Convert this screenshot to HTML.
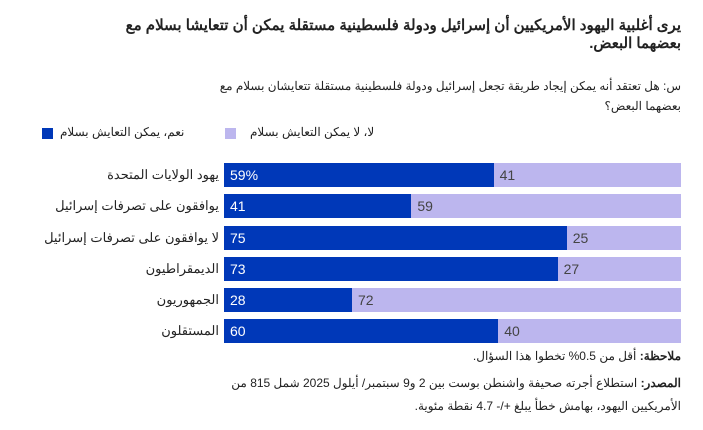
<!DOCTYPE html>
<html><head><meta charset="utf-8"><style>
body{margin:0;width:703px;height:430px;background:#fff;font-family:"Liberation Sans","Noto Sans CJK SC",sans-serif;color:#222;position:relative;overflow:hidden}
.a{position:absolute;white-space:nowrap;direction:rtl}
.r{right:22px}
.bar{position:absolute;left:224px;width:457px;height:24px;background:#bcb6ee}
.bar .d{position:absolute;left:0;top:0;height:24px;background:#0038b8}
.bar span{position:absolute;top:4px;font-size:14px}
.lab{position:absolute;right:484px;font-size:13px;direction:rtl;white-space:nowrap}
</style></head><body>
<div class="a r" style="top:17px;font-size:15px;font-weight:bold;line-height:18px;text-align:right">يرى أغلبية اليهود الأمريكيين أن إسرائيل ودولة فلسطينية مستقلة يمكن أن تتعايشا بسلام مع<br>بعضهما البعض.</div>
<div class="a r" style="top:76px;font-size:12px;line-height:20px;text-align:right">س: هل تعتقد أنه يمكن إيجاد طريقة تجعل إسرائيل ودولة فلسطينية مستقلة تتعايشان بسلام مع<br>بعضهما البعض؟</div>
<div style="position:absolute;left:42px;top:128px;width:11px;height:11px;background:#0038b8"></div>
<div class="a" style="left:60px;top:125px;font-size:12px">نعم، يمكن التعايش بسلام</div>
<div style="position:absolute;left:225px;top:128px;width:11px;height:11px;background:#bcb6ee"></div>
<div class="a" style="left:250px;top:125px;font-size:12px">لا، لا يمكن التعايش بسلام</div>

<div class="lab" style="top:167px">يهود الولايات المتحدة</div>
<div class="bar" style="top:163px"><div class="d" style="width:59%"></div><span style="left:6px;color:#fff">59%</span><span style="left:calc(59% + 6px);color:#444">41</span></div>
<div class="lab" style="top:198px">يوافقون على تصرفات إسرائيل</div>
<div class="bar" style="top:194px"><div class="d" style="width:41%"></div><span style="left:6px;color:#fff">41</span><span style="left:calc(41% + 6px);color:#444">59</span></div>
<div class="lab" style="top:230px">لا يوافقون على تصرفات إسرائيل</div>
<div class="bar" style="top:226px"><div class="d" style="width:75%"></div><span style="left:6px;color:#fff">75</span><span style="left:calc(75% + 6px);color:#444">25</span></div>
<div class="lab" style="top:261px">الديمقراطيون</div>
<div class="bar" style="top:257px"><div class="d" style="width:73%"></div><span style="left:6px;color:#fff">73</span><span style="left:calc(73% + 6px);color:#444">27</span></div>
<div class="lab" style="top:292px">الجمهوريون</div>
<div class="bar" style="top:288px"><div class="d" style="width:28%"></div><span style="left:6px;color:#fff">28</span><span style="left:calc(28% + 6px);color:#444">72</span></div>
<div class="lab" style="top:323px">المستقلون</div>
<div class="bar" style="top:319px"><div class="d" style="width:60%"></div><span style="left:6px;color:#fff">60</span><span style="left:calc(60% + 6px);color:#444">40</span></div>

<div class="a r" style="top:349px;font-size:12px"><b>ملاحظة:</b> أقل من 0.5% تخطوا هذا السؤال.</div>
<div class="a r" style="top:372px;font-size:12px;line-height:23px;text-align:right"><b>المصدر:</b> استطلاع أجرته صحيفة واشنطن بوست بين 2 و9 سبتمبر/ أيلول 2025 شمل 815 من<br>الأمريكيين اليهود، بهامش خطأ يبلغ +/- 4.7 نقطة مئوية.</div>
</body></html>
